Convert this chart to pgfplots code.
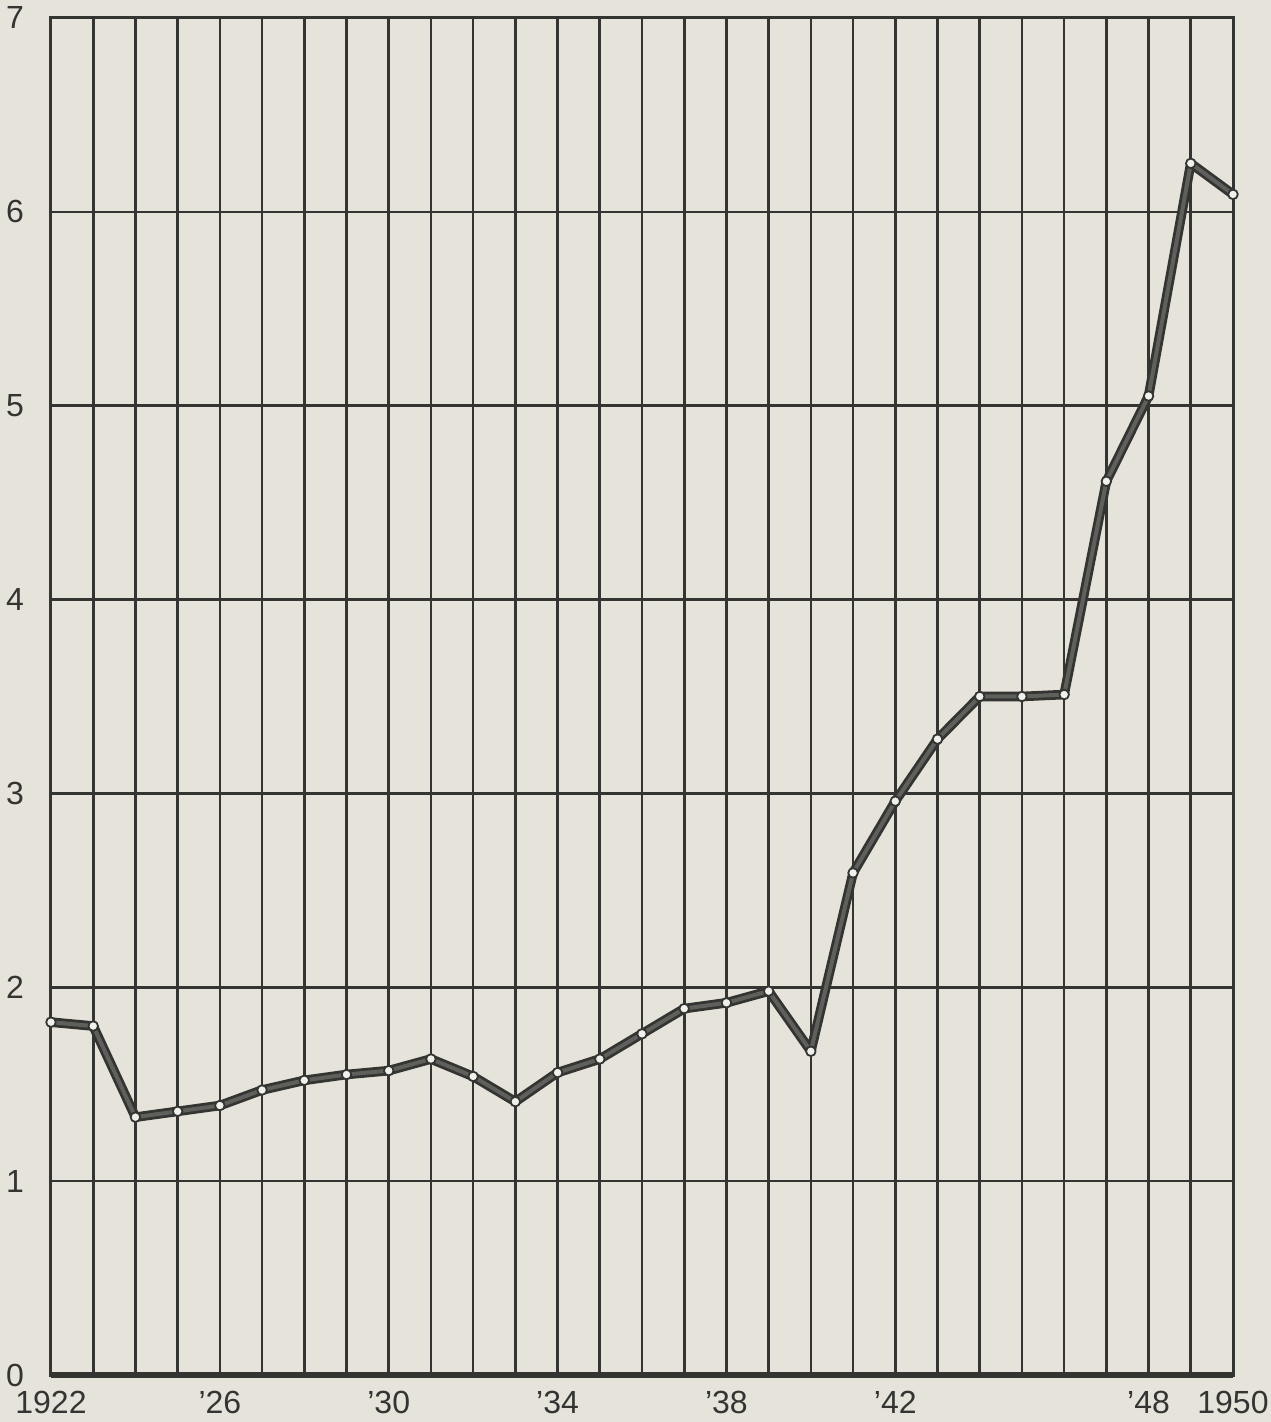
\documentclass[border=0pt]{standalone}
\usepackage{pgfplots}
\pgfplotsset{compat=1.18}
\usepackage{pgfplotstable}
\usepackage{fontspec}
\setmainfont{Liberation Sans}
\usetikzlibrary{backgrounds}
\definecolor{paper}{RGB}{229,227,218}
\definecolor{ink}{RGB}{52,52,50}
\definecolor{band}{RGB}{95,95,92}
\definecolor{dot}{RGB}{240,240,236}

\pgfplotstableread{
year value
1922 1.82
1923 1.80
1924 1.33
1925 1.36
1926 1.39
1927 1.47
1928 1.52
1929 1.55
1930 1.57
1931 1.63
1932 1.54
1933 1.41
1934 1.56
1935 1.63
1936 1.76
1937 1.89
1938 1.92
1939 1.98
1940 1.67
1941 2.59
1942 2.96
1943 3.28
1944 3.50
1945 3.50
1946 3.51
1947 4.61
1948 5.05
1949 6.25
1950 6.09
}\datatable

\begin{document}
\begin{tikzpicture}
\begin{axis}[
  name=ax,
  scale only axis,
  width=591pt, height=678.5pt,
  xmin=1922, xmax=1950, ymin=0, ymax=7,
  xtick={1922,1923,...,1950},
  xticklabels={1922,,,,'26,,,,'30,,,,'34,,,,'38,,,,'42,,,,,,'48,,1950},
  ytick={0,1,...,7},
  grid=major,
  major grid style={ink, line width=1.3pt},
  axis line style={ink, line width=1.5pt},
  tick style={draw=none},
  /pgf/number format/assume math mode=true,
  ticklabel style={font=\fontsize{16}{16}\selectfont, text=ink, inner sep=1pt},
  xticklabel style={anchor=center, yshift=-13.5pt},
  yticklabel style={anchor=center, xshift=-18pt},
  clip=false,
]
\draw[ink, line width=2.8pt] (axis cs:1922,0) -- (axis cs:1950,0);
\addplot[ink, line width=4.8pt, line join=round, line cap=round] table[x=year, y=value] {\datatable};
\addplot[band, line width=2.0pt, line join=round,
  mark=*, mark size=2.4pt, mark options={fill=dot, draw=ink, line width=0.9pt}] table[x=year, y=value] {\datatable};
\end{axis}
\pgfresetboundingbox
\path[use as bounding box] ([xshift=-25.5pt,yshift=-23.5pt]ax.south west) rectangle ([xshift=19pt,yshift=9pt]ax.north east);
\begin{scope}[on background layer]
\fill[paper] ([xshift=-25.5pt,yshift=-23.5pt]ax.south west) rectangle ([xshift=19pt,yshift=9pt]ax.north east);
\end{scope}
\end{tikzpicture}
\end{document}
